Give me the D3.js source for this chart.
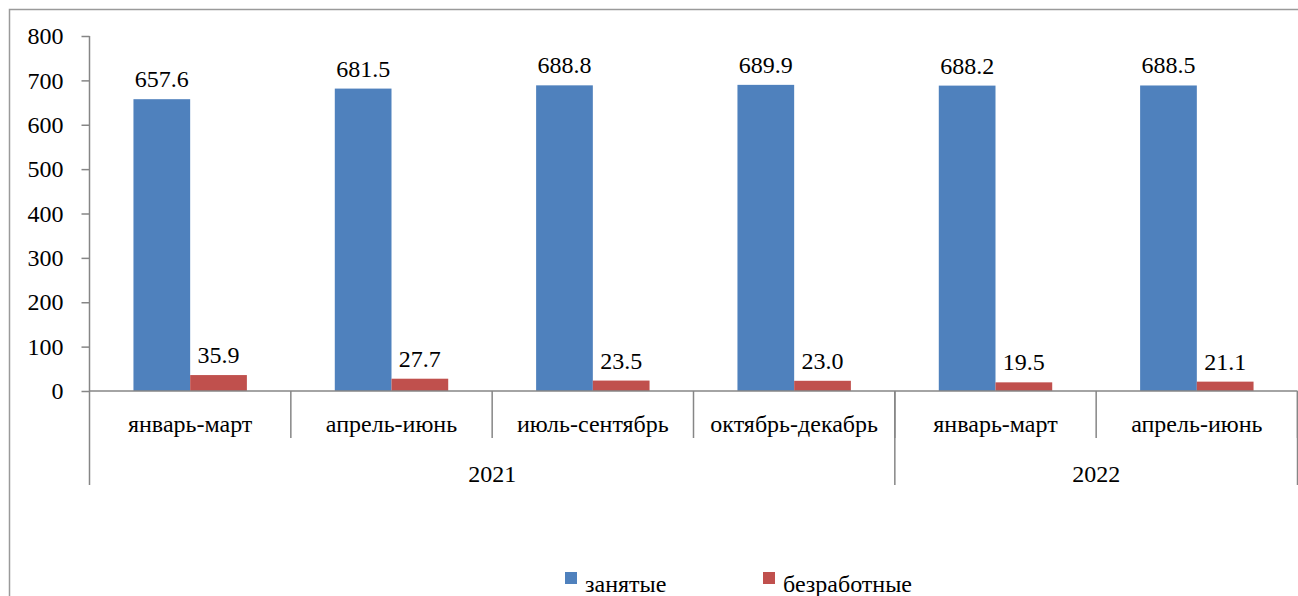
<!DOCTYPE html>
<html><head><meta charset="utf-8">
<script src="https://cdn.jsdelivr.net/npm/d3@7"></script>
</head>
<body style="margin:0">
<svg id="s" width="1298" height="596"></svg>
<script>
const categories = ["январь-март","апрель-июнь","июль-сентябрь","октябрь-декабрь","январь-март","апрель-июнь"];
const years = ["2021","2022"];
const yearSpans = [4,2];
const seriesNames = ["занятые","безработные"];
const employed = [657.6,681.5,688.8,689.9,688.2,688.5];
const unemployed = [35.9,27.7,23.5,23.0,19.5,21.1];
const yTicks = [0,100,200,300,400,500,600,700,800];
const colors = ["#4F81BD","#C0504D"];

const FONT = '"Liberation Serif"';
const svg = d3.select("#s").attr("font-family", "Liberation Serif").style("font-family", FONT);
const pLeft = 89.5, pRight = 1297.5, pTop = 36, pBottom = 391;

svg.append("rect").attr("x",9.5).attr("y",9.5).attr("width",1400).attr("height",700)
  .attr("fill","none").attr("stroke","#9a9a9a").attr("stroke-width",1.5);

const y = d3.scaleLinear().domain([0,800]).range([pBottom,pTop]);
const x0 = d3.scaleBand().domain(d3.range(categories.length)).range([pLeft,pRight]).padding(0);
const x1 = d3.scaleBand().domain([0,1]).range([0,x0.bandwidth()]).paddingInner(0).paddingOuter(0.775);

function txt(sel){ return sel.style("font-family",FONT,"important").attr("font-size",24); }

categories.forEach((c,i)=>{
  [employed[i],unemployed[i]].forEach((v,s)=>{
    svg.append("rect")
      .attr("x", x0(i)+x1(s))
      .attr("y", y(v))
      .attr("width", x1.bandwidth())
      .attr("height", y(0)-y(v))
      .attr("fill", colors[s]);
    txt(svg.append("text"))
      .attr("x", x0(i)+x1(s)+x1.bandwidth()/2)
      .attr("y", y(v)-12)
      .attr("text-anchor","middle")
      .text(v.toFixed(1));
  });
});

const axisColor = "#868686";
const yAxis = d3.axisLeft(y).tickValues(yTicks).tickSize(8).tickPadding(18).tickFormat(d3.format("d"));
const ya = svg.append("g").attr("transform",`translate(${pLeft},0)`).call(yAxis);
ya.attr("font-family","Liberation Serif").attr("font-size",24);
ya.select(".domain").remove();
ya.selectAll(".tick line").attr("stroke",axisColor).attr("stroke-width",1.5);
txt(ya.selectAll(".tick text")).attr("fill","#000");
svg.append("line").attr("x1",pLeft).attr("x2",pLeft).attr("y1",pTop).attr("y2",485)
  .attr("stroke",axisColor).attr("stroke-width",1.5);

svg.append("line").attr("x1",pLeft).attr("x2",pRight).attr("y1",pBottom).attr("y2",pBottom)
  .attr("stroke",axisColor).attr("stroke-width",1.5);

d3.range(1,categories.length+1).forEach(i=>{
  const xx = i<categories.length ? x0(i) : pRight;
  svg.append("line").attr("x1",xx).attr("x2",xx).attr("y1",pBottom).attr("y2",438)
    .attr("stroke",axisColor).attr("stroke-width",1.5);
});
categories.forEach((c,i)=>{
  txt(svg.append("text")).attr("x",x0(i)+x0.bandwidth()/2).attr("y",432)
    .attr("text-anchor","middle").text(c);
});

let start = 0;
years.forEach((yr,k)=>{
  const xa = x0(start);
  const endIdx = start+yearSpans[k];
  const xb = endIdx<categories.length ? x0(endIdx) : pRight;
  svg.append("line").attr("x1",xb).attr("x2",xb).attr("y1",pBottom).attr("y2",485)
    .attr("stroke",axisColor).attr("stroke-width",1.5);
  txt(svg.append("text")).attr("x",(xa+xb)/2).attr("y",482)
    .attr("text-anchor","middle").text(yr);
  start = endIdx;
});

const legendX = [565,763];
seriesNames.forEach((n,s)=>{
  svg.append("rect").attr("x",legendX[s]).attr("y",572).attr("width",12).attr("height",12).attr("fill",colors[s]);
  txt(svg.append("text")).attr("x",legendX[s]+20).attr("y",592).text(n);
});
</script>
</body></html>
